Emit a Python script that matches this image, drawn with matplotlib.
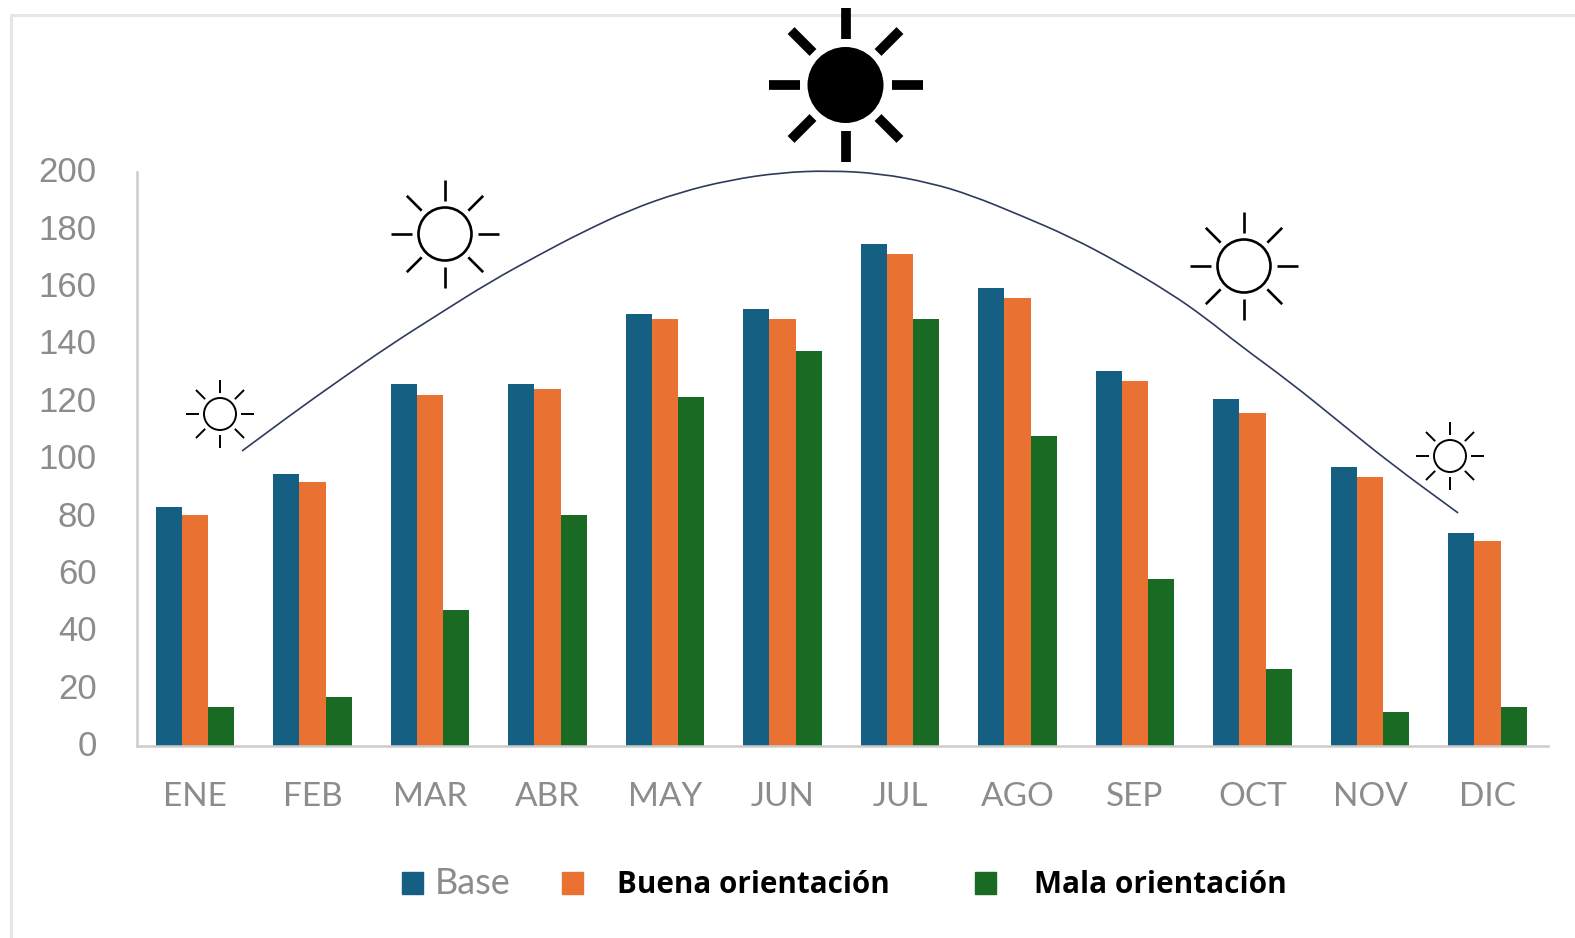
import matplotlib
matplotlib.use("Agg")
import matplotlib.pyplot as plt
from matplotlib.patches import Circle, PathPatch, Rectangle
from matplotlib.path import Path
from matplotlib.transforms import ScaledTranslation
import numpy as np

months = ["ENE", "FEB", "MAR", "ABR", "MAY", "JUN", "JUL", "AGO", "SEP", "OCT", "NOV", "DIC"]
base = [83.3, 94.8, 126.1, 126.1, 150.5, 152.3, 174.9, 159.6, 130.7, 120.9, 97.2, 74.2]
buena = [80.5, 92.0, 122.3, 124.4, 148.8, 148.8, 171.4, 156.1, 127.2, 116.0, 93.7, 71.4]
mala = [13.6, 17.1, 47.4, 80.5, 121.6, 137.6, 148.8, 108.0, 58.2, 26.8, 11.8, 13.6]
yticks = [0, 20, 40, 60, 80, 100, 120, 140, 160, 180, 200]

# sun path (x in month positions)
curve_x = [0.40, 0.81, 1.23, 1.66, 2.09, 2.51, 2.94, 3.28, 3.70, 4.13, 4.55, 4.98, 5.40,
           5.83, 6.26, 6.60, 7.02, 7.45, 7.87, 8.30, 8.60, 8.89, 9.32, 9.74, 10.17, 10.75]
curve_y = [102.8, 115.3, 127.5, 139.7, 150.9, 161.7, 171.4, 178.7, 186.8, 193.0, 197.2, 199.8, 200.5,
           199.5, 196.2, 192.0, 185.0, 177.4, 168.3, 157.8, 149.2, 139.7, 126.8, 112.9, 98.6, 81.2]

BLUE = "#156082"
ORANGE = "#E97132"
GREEN = "#196B24"
GREY = "#8c8c8c"
W, H = 1575, 938

fig = plt.figure(figsize=(W / 100, H / 100), dpi=100)

# chart axes, placed by pixels
left, right, top, bottom = 137, 1548, 172, 746
ax = fig.add_axes([left / W, 1 - bottom / H, (right - left) / W, (bottom - top) / H])
ax.set_xlim(-0.494, 11.515)
ax.set_ylim(0, 200)

x = np.arange(len(months))
bw = 0.222
ax.bar(x - bw, base, bw, color=BLUE)
ax.bar(x, buena, bw, color=ORANGE)
ax.bar(x + bw, mala, bw, color=GREEN)

# smooth line through the read points
verts = [(curve_x[0], curve_y[0])]
codes = [Path.MOVETO]
for i in range(1, len(curve_x) - 1):
    verts.append((curve_x[i], curve_y[i]))
    codes.append(Path.CURVE3)
    verts.append(((curve_x[i] + curve_x[i + 1]) / 2, (curve_y[i] + curve_y[i + 1]) / 2))
    codes.append(Path.CURVE3)
verts.append((curve_x[-1], curve_y[-1]))
codes.append(Path.LINETO)
ax.add_patch(PathPatch(Path(verts, codes), fill=False, edgecolor="#2f3b5c", lw=1.2, clip_on=False))

for s in ["top", "right"]:
    ax.spines[s].set_visible(False)
for s in ["left", "bottom"]:
    ax.spines[s].set_color("#cccccc")
    ax.spines[s].set_linewidth(1.8)

ax.set_yticks(yticks)
ax.set_xticks(x)
ax.set_xticklabels(months, family="Lato", fontsize=24, color=GREY)
ax.tick_params(axis="y", length=0, pad=29, labelsize=25, labelcolor=GREY)
ax.tick_params(axis="x", length=0, pad=26)
for lab in ax.get_yticklabels():
    lab.set_family("Liberation Sans")
    lab.set_transform(lab.get_transform() + ScaledTranslation(0, 2 / 72, fig.dpi_scale_trans))

# overlay in pixel coordinates for the frame, suns and legend
ov = fig.add_axes([0, 0, 1, 1], zorder=5)
ov.set_xlim(0, W)
ov.set_ylim(H, 0)
ov.axis("off")
ov.patch.set_alpha(0)

ov.plot([11, 11, W], [H, 15, 15], color="#e6e6e6", lw=2.2)


def sun(cx, cy, r, r_in, r_out, lw, filled=False):
    ov.add_patch(Circle((cx, cy), r, facecolor="black" if filled else "white", edgecolor="black",
                        lw=lw if not filled else 0))
    for a in np.deg2rad(np.arange(0, 360, 45)):
        ov.plot([cx + r_in * np.cos(a), cx + r_out * np.cos(a)],
                [cy + r_in * np.sin(a), cy + r_out * np.sin(a)],
                color="black", lw=lw, solid_capstyle="butt")


sun(220, 414, 16, 21, 34, 1.4)
sun(445, 234, 26.5, 33, 54, 1.9)
sun(845.5, 85, 38, 46, 77, 7, filled=True)
sun(1244, 266, 26.5, 33, 54, 1.9)
sun(1450, 456, 16, 21, 34, 1.4)

for x0, col in [(402, BLUE), (562, ORANGE), (975, GREEN)]:
    ov.add_patch(Rectangle((x0, 872), 21, 22, color=col))
ov.text(435, 884, "Base", family="Lato", fontsize=26, color=GREY, va="center", ha="left")
ov.text(617, 885, "Buena orientación", family="Open Sans", weight="bold", fontsize=21.3,
        color="black", va="center", ha="left")
ov.text(1034, 885, "Mala orientación", family="Open Sans", weight="bold", fontsize=21.4,
        color="black", va="center", ha="left")

fig.savefig("out.png", dpi=100)
